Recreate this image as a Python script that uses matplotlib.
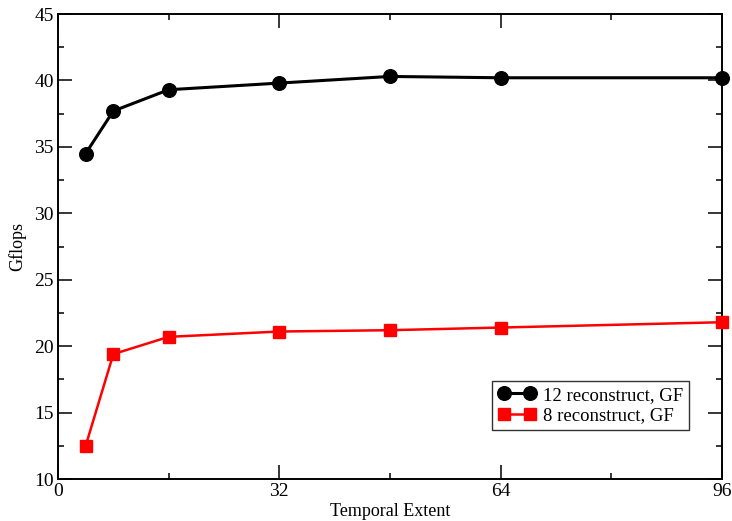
import matplotlib
matplotlib.use("Agg")
import matplotlib.pyplot as plt
from matplotlib.ticker import MultipleLocator

# Temporal extent vs Gflops
extent = [4, 8, 16, 32, 48, 64, 96]
gflops_12 = [34.5, 37.7, 39.3, 39.8, 40.3, 40.2, 40.2]
gflops_8 = [12.5, 19.4, 20.7, 21.1, 21.2, 21.4, 21.8]
labels = ["12 reconstruct, GF", "8 reconstruct, GF"]

plt.rcParams['font.family'] = ['Liberation Serif', 'DejaVu Serif']

fig = plt.figure(figsize=(7.32, 5.21), dpi=100)
ax = fig.add_axes([58 / 732, 1 - 479 / 521, 664 / 732, 465 / 521])

ax.plot(extent, gflops_12, color='black', lw=2.2, marker='o', ms=9.8,
        label=labels[0], clip_on=False, zorder=3)
ax.plot(extent, gflops_8, color='red', lw=1.8, marker='s', ms=8.5,
        label=labels[1], clip_on=False, zorder=3)

ax.set_xlim(0, 96)
ax.set_ylim(10, 45)
ax.xaxis.set_major_locator(MultipleLocator(32))
ax.xaxis.set_minor_locator(MultipleLocator(16))
ax.yaxis.set_major_locator(MultipleLocator(5))
ax.yaxis.set_minor_locator(MultipleLocator(2.5))
ax.tick_params(which='both', direction='in', top=True, right=True, width=1.1,
               labelsize=14, pad=3)
ax.tick_params(which='major', length=10)
ax.tick_params(which='minor', length=4.5)
for s in ax.spines.values():
    s.set_linewidth(1.4)

ax.set_xlabel("Temporal Extent", fontsize=13, labelpad=2)
ax.set_ylabel("Gflops", fontsize=13, labelpad=6)

leg = ax.legend(loc='lower right', bbox_to_anchor=(0.950, 0.105), fontsize=13.5,
                numpoints=2, frameon=True, fancybox=False, edgecolor='black',
                handlelength=2.0, handletextpad=0.4, borderpad=0.3,
                labelspacing=0.2, borderaxespad=0)
leg.get_frame().set_linewidth(1.0)

fig.savefig("out.png", dpi=100)
